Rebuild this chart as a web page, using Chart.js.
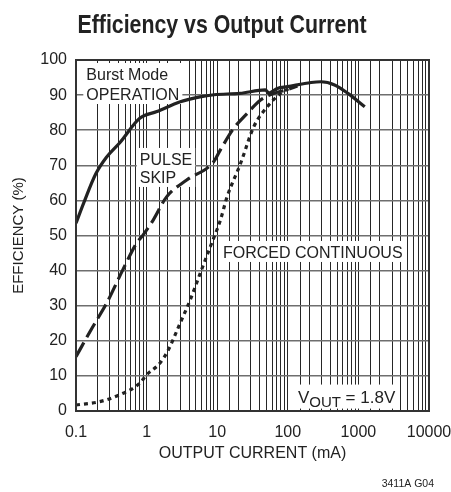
<!DOCTYPE html>
<html>
<head>
<meta charset="utf-8">
<script src="https://cdn.jsdelivr.net/npm/chart.js@4.4.1/dist/chart.umd.min.js"></script>
<style>
  html, body { margin:0; padding:0; background:#fff; }
</style>
</head>
<body>
<canvas id="chart" width="451" height="492"></canvas>
<script>

// DATA
const xTickLabels = ["0.1", "1", "10", "100", "1000", "10000"];

const burstX = [0.1, 0.13, 0.19, 0.27, 0.42, 0.8, 1.4, 3, 5.7, 9, 21, 48, 54, 71, 99, 214, 295, 460, 710, 1230];
const burstY = [53.5, 59.5, 67.5, 72.3, 76.5, 83.4, 85.3, 88.1, 89.5, 90.1, 90.5, 91.5, 90.6, 91.9, 92.4, 93.6, 93.8, 92.9, 90.5, 86.7];

const pulseX = [0.1, 0.173, 0.268, 0.46, 0.72, 0.89, 1.24, 1.92, 3.7, 8.9, 11.1, 17.1, 26.6, 41.2, 63.9, 99, 137];
const pulseY = [15.5, 24, 30.5, 40.2, 47.8, 50.1, 54.4, 61, 65.8, 71, 74.4, 80.5, 84.8, 88.6, 90.5, 91.6, 92.6];

const forcedX = [0.1, 0.215, 0.415, 0.8, 1, 1.54, 2.03, 2.98, 4.14, 5.74, 7.98, 11.1, 13.8, 21.4, 33, 51.3, 79.4, 104];
const forcedY = [1.7, 2.65, 4.6, 7.9, 10.3, 13.6, 17.4, 25, 31.6, 39.2, 46.8, 54.4, 61, 70.5, 81, 86.7, 90.5, 91.9];


const FONT = '"Liberation Sans", Arial, sans-serif';
const INK = "#222";

Chart.defaults.font.family = FONT;
Chart.defaults.color = INK;


function toPoints(xs, ys){
    return xs.map((x, i) => ({x: x, y: ys[i]}));
}


// TEXT, BOXES AND FRAME
const notesPlugin = {

    id: "notes",

    beforeDatasetsDraw(chart){

        const ctx = chart.ctx;
        const xs = chart.scales.x;
        const ys = chart.scales.y;

        const notes = [
            {lines: ["Burst Mode", "OPERATION"], x: 0.14, y: 94.3, gap: 20},
            {lines: ["PULSE", "SKIP"], x: 0.8, y: 70.1, gap: 18},
            {lines: ["FORCED CONTINUOUS"], x: 12.1, y: 43.6, gap: 0}
        ];

        ctx.save();
        ctx.font = "16px " + FONT;
        ctx.textAlign = "left";
        ctx.textBaseline = "alphabetic";

        notes.forEach(n => {
            const left = xs.getPixelForValue(n.x);
            const base = ys.getPixelForValue(n.y);
            const w = Math.max(...n.lines.map(l => ctx.measureText(l).width));
            const lastBase = base + n.gap * (n.lines.length - 1);
            ctx.fillStyle = "#fff";
            ctx.fillRect(left - 3, base - 17, w + 6, lastBase - base + 21);
            ctx.fillStyle = INK;
            n.lines.forEach((l, i) => ctx.fillText(l, left, base + n.gap * i));
        });

        // V_OUT label
        const vx = xs.getPixelForValue(139);
        const vy = ys.getPixelForValue(2.4);
        ctx.font = "17px " + FONT;
        const wV = ctx.measureText("V").width;
        ctx.font = "15px " + FONT;
        const wSub = ctx.measureText("OUT").width;
        ctx.font = "17px " + FONT;
        const wRest = ctx.measureText(" = 1.8V").width;
        ctx.fillStyle = "#fff";
        ctx.fillRect(vx - 4, vy - 18, wV + wSub + wRest + 8, 24);
        ctx.fillStyle = INK;
        ctx.fillText("V", vx, vy);
        ctx.fillText(" = 1.8V", vx + wV + wSub, vy);
        ctx.font = "15px " + FONT;
        ctx.fillText("OUT", vx + wV, vy + 4);

        ctx.restore();

    },

    afterDraw(chart){

        const ctx = chart.ctx;
        const a = chart.chartArea;

        ctx.save();
        ctx.strokeStyle = "#333";
        ctx.lineWidth = 2;
        ctx.strokeRect(a.left, a.top, a.right - a.left, a.bottom - a.top);

        // condensed bold title
        ctx.fillStyle = INK;
        ctx.textAlign = "center";
        ctx.textBaseline = "alphabetic";
        ctx.font = "bold 26px " + FONT;
        ctx.save();
        ctx.translate(222, 33);
        ctx.scale(0.82, 1);
        ctx.fillText("Efficiency vs Output Current", 0, 0);
        ctx.restore();

        ctx.textAlign = "right";
        ctx.font = "10.5px " + FONT;
        ctx.fillText("3411A G04", 434, 487);
        ctx.restore();

    }

};


// CHART
new Chart(

    document.getElementById("chart"),

    {
        type: "line",
        data: {
            datasets: [
                {
                    label: "Burst Mode OPERATION",
                    data: toPoints(burstX, burstY),
                    borderColor: INK,
                    borderWidth: 3.2,
                    pointRadius: 0,
                    cubicInterpolationMode: "monotone"
                },
                {
                    label: "PULSE SKIP",
                    data: toPoints(pulseX, pulseY),
                    borderColor: INK,
                    borderWidth: 3.2,
                    borderDash: [16, 6],
                    pointRadius: 0,
                    cubicInterpolationMode: "monotone"
                },
                {
                    label: "FORCED CONTINUOUS",
                    data: toPoints(forcedX, forcedY),
                    borderColor: INK,
                    borderWidth: 3.2,
                    borderDash: [4, 4],
                    pointRadius: 0,
                    cubicInterpolationMode: "monotone"
                }
            ]
        },
        options: {
            responsive: false,
            animation: false,
            layout: {
                padding: {top: 60, right: 22, bottom: 0, left: 0}
            },
            plugins: {
                legend: {display: false},
                title: {display: false},
                tooltip: {enabled: false}
            },
            scales: {
                x: {
                    type: "logarithmic",
                    min: 0.1,
                    max: 10000,
                    grid: {color: "#262626", lineWidth: 1, drawTicks: false},
                    border: {color: "#333", width: 2},
                    ticks: {
                        autoSkip: false,
                        maxRotation: 0,
                        padding: 12,
                        font: {size: 16},
                        callback: (v) => {
                            const e = Math.log10(v);
                            if (Math.abs(e - Math.round(e)) < 1e-6) return xTickLabels[Math.round(e) + 1];
                            return "";
                        }
                    },
                    title: {
                        display: true,
                        text: "OUTPUT CURRENT (mA)",
                        font: {size: 16},
                        padding: {top: 0, bottom: 29}
                    },
                    afterFit: (s) => {
                        s.height = 81;
                        s.paddingLeft = 0;
                        s.paddingRight = 0;
                    }
                },
                y: {
                    min: 0,
                    max: 100,
                    grid: {color: "#6e6e6e", lineWidth: 1.5, drawTicks: false},
                    border: {color: "#333", width: 2},
                    ticks: {
                        stepSize: 10,
                        padding: 9,
                        font: {size: 16}
                    },
                    title: {
                        display: true,
                        text: "EFFICIENCY (%)",
                        font: {size: 15},
                        padding: {top: 10, bottom: 0}
                    },
                    afterFit: (s) => { s.width = 76; }
                }
            }
        },
        plugins: [notesPlugin]
    }

);

</script>
</body>
</html>
